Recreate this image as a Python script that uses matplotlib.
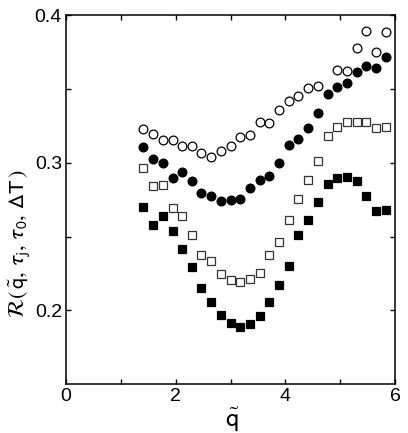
import numpy as np
import matplotlib
matplotlib.use("Agg")
from matplotlib import pyplot as plt

plt.rcParams['font.family'] = ['Liberation Sans', 'DejaVu Sans']
plt.rcParams['mathtext.fontset'] = 'stixsans'

# q~ positions
q = [1.41, 1.59, 1.77, 1.95, 2.12, 2.30, 2.47, 2.65, 2.82, 3.00, 3.17, 3.36, 3.53,
     3.71, 3.89, 4.06, 4.24, 4.42, 4.60, 4.78, 4.95, 5.13, 5.30, 5.48, 5.65, 5.83]

open_circ = [0.3227, 0.3194, 0.3153, 0.3155, 0.3115, 0.3110, 0.3063, 0.3038, 0.3081,
             0.3110, 0.3171, 0.3185, 0.3277, 0.3268, 0.3358, 0.3419, 0.3455, 0.3509,
             0.3520, np.nan, 0.3628, 0.3619, 0.3779, 0.3892, 0.3750, 0.3885]
filled_circ = [0.3106, 0.3027, 0.3000, 0.2896, 0.2937, 0.2874, 0.2793, 0.2773, 0.2739,
               0.2750, 0.2757, 0.2827, 0.2881, 0.2908, 0.3000, 0.3117, 0.3162, 0.3234,
               0.3340, 0.3464, 0.3516, 0.3538, 0.3613, 0.3655, 0.3640, 0.3718]
open_sq = [0.2962, 0.2845, 0.2849, 0.2696, 0.2642, 0.2511, 0.2378, 0.2336, 0.2245,
           0.2205, 0.2189, 0.2214, 0.2254, 0.2372, 0.2462, 0.2613, 0.2755, 0.2885,
           0.3014, 0.3178, 0.3245, 0.3275, 0.3275, 0.3277, 0.3234, 0.3241]
filled_sq = [0.2700, 0.2579, 0.2637, 0.2538, 0.2412, 0.2295, 0.2151, 0.2056, 0.1971,
             0.1917, 0.1890, 0.1905, 0.1962, 0.2059, 0.2171, 0.2300, 0.2511, 0.2615,
             0.2736, 0.2854, 0.2894, 0.2901, 0.2878, 0.2773, 0.2673, 0.2682]

fig = plt.figure(figsize=(4.08, 4.33), dpi=100)
ax = fig.add_axes([0.162, 0.113, 0.806, 0.852])

ax.plot(q, open_circ, 'o', ms=6.3, mfc='white', mec='black', mew=0.9, ls='none')
ax.plot(q, filled_circ, 'o', ms=6.3, mfc='black', mec='black', mew=0.9, ls='none')
ax.plot(q, open_sq, 's', ms=5.6, mfc='white', mec='#333333', mew=0.9, ls='none')
ax.plot(q, filled_sq, 's', ms=5.6, mfc='black', mec='black', mew=0.9, ls='none')

ax.set_xlim(0, 6)
ax.set_ylim(0.15, 0.4)
ax.set_xticks([0, 2, 4, 6])
ax.set_xticks([1, 3, 5], minor=True)
ax.set_yticks([0.2, 0.3, 0.4])
ax.set_yticks([0.25, 0.35], minor=True)
ax.set_xticklabels(['0', '2', '4', '6'])
ax.set_yticklabels(['0.2', '0.3', '0.4'])
ax.tick_params(which='both', direction='in', top=True, right=True,
               length=3.5, width=1, labelsize=14, pad=3)

for s in ax.spines.values():
    s.set_linewidth(1.1)

ax.set_xlabel(r'$\tilde{\mathrm{q}}$', fontsize=19, labelpad=0)
ax.set_ylabel(r'$\mathcal{R}(\,\tilde{\mathrm{q}},\,\tau_{\mathrm{j}},\,\tau_0,\,\Delta\mathrm{T}\,)$',
              fontsize=16)
ax.yaxis.set_label_coords(-0.105, 0.38)
ax.xaxis.set_label_coords(0.505, -0.06)

fig.savefig('out.png', dpi=100)
